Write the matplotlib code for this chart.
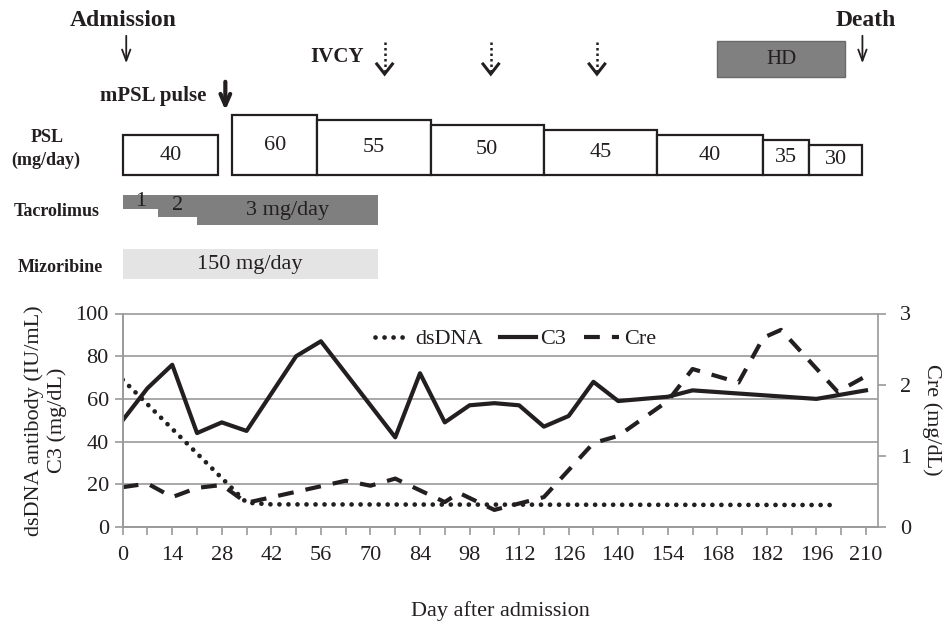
import matplotlib
matplotlib.use('Agg')
import matplotlib.pyplot as plt
from matplotlib.patches import Rectangle

plt.rcParams['font.family'] = ['Liberation Serif', 'DejaVu Serif']

# ---- lab data ----
dsdna_days = [0, 35, 42, 200]
dsdna_vals = [69, 11.4, 10.6, 10.3]

c3_days = [0, 7, 14, 21, 28, 35, 49, 56, 77, 84, 91, 98, 105, 112, 119, 126, 133, 140, 154, 161, 196, 210]
c3_vals = [50, 65, 76, 44, 49, 45, 80, 87, 42, 72, 49, 57, 58, 57, 47, 52, 68, 59, 61, 64, 60, 64]

cre_days = [0, 7, 14, 21, 28, 35, 63, 70, 77, 91, 95, 105, 119, 133, 140, 154, 161, 174, 181, 186, 202, 210]
cre_vals = [0.56, 0.61, 0.42, 0.55, 0.59, 0.34, 0.65, 0.58, 0.68, 0.35, 0.48, 0.24, 0.42, 1.18, 1.28, 1.77, 2.22, 2.03, 2.66, 2.77, 1.9, 2.12]

# ---- treatment data ----
psl_start = [0, 31, 55, 87, 119, 151, 181, 194]
psl_end = [27, 55, 87, 119, 151, 181, 194, 209]
psl_dose = [40, 60, 55, 50, 45, 40, 35, 30]

tac_start = [0, 10, 21]
tac_end = [10, 21, 72]
tac_dose = [1, 2, 3]
tac_labels = ['1', '2', '3 mg/day']

miz_start, miz_end, miz_label = 0, 72, '150 mg/day'
hd_start, hd_end = 168, 204
ivcy_days = [74, 104, 134]
mpsl_day = 29
admission_day = 1
death_day = 209

xticks_major = list(range(0, 211, 14))
xticks_minor = list(range(7, 211, 14))

ink = '#231f20'
grey = '#9a9a9a'

W, H = 944, 625
L, R = 122.7, 878.0
B, T = 527.0, 313.5
xmax = 213.4
ppd = (R - L) / xmax

fig = plt.figure(figsize=(W / 100, H / 100), dpi=100)
ax = fig.add_axes([L / W, 1 - B / H, (R - L) / W, (B - T) / H])
ax2 = ax.twinx()

l1, = ax.plot(dsdna_days, dsdna_vals, color=ink, lw=3.4, linestyle=(0, (0.01, 1.9)),
              dash_capstyle='round', label='dsDNA')
l2, = ax.plot(c3_days, c3_vals, color=ink, lw=3.0, label='C3')
l3, = ax2.plot(cre_days, cre_vals, color=ink, lw=3.0, linestyle=(0, (3.8, 2.9)), label='Cre')

ax.set_xlim(0, xmax)
ax.set_ylim(0, 100)
ax2.set_ylim(0, 3)
ax.set_yticks(range(0, 101, 20))
ax2.set_yticks([0, 1, 2, 3])
ax.set_xticks(xticks_major)
ax.set_xticks(xticks_minor, minor=True)
ax.yaxis.grid(True, color=grey, lw=1.2)
ax.set_axisbelow(True)

for a in (ax, ax2):
    for s in a.spines.values():
        s.set_color(grey)
        s.set_linewidth(1.2)
    a.spines['top'].set_visible(False)
ax.spines['right'].set_visible(False)
ax.tick_params(axis='both', which='both', direction='out', color=grey, width=1.2,
               length=6, labelsize=16, labelcolor=ink, pad=4)
ax.tick_params(axis='x', pad=8)
ax2.tick_params(axis='y', direction='out', color=grey, width=1.2, length=6,
                labelsize=16, labelcolor=ink, pad=10)

ax.set_ylabel('dsDNA antibody (IU/mL)\nC3 (mg/dL)', fontsize=16, color=ink, labelpad=6,
              linespacing=1.2)
ax2.set_ylabel('Cre (mg/dL)', fontsize=16, color=ink, rotation=270, labelpad=22)
ax.set_xlabel('Day after admission', fontsize=16, color=ink, labelpad=26)

ax.legend(handles=[l1, l2, l3], loc='center', bbox_to_anchor=(0.52, 0.88), ncol=3,
          frameon=False, fontsize=16, handlelength=1.6, handletextpad=0.2,
          columnspacing=0.8, labelcolor=ink)

# ---- treatment panel (x in days, y in pixels from top) ----
top = fig.add_axes([0, 1 - 300 / H, 1, 300 / H])
top.set_xlim(-L / ppd, (W - L) / ppd)
top.set_ylim(300, 0)
top.axis('off')


def px(x):
    return (x - L) / ppd


# PSL boxes
base = 175
for s, e, d in zip(psl_start, psl_end, psl_dose):
    top.add_patch(Rectangle((s, base - d), e - s, d, facecolor='white', edgecolor=ink, lw=1.6))
    top.text((s + e) / 2, base - d / 2, str(d), ha='center', va='center', fontsize=16, color=ink)

# tacrolimus steps
for s, e, d, lab in zip(tac_start, tac_end, tac_dose, tac_labels):
    h = 6 + 8 * d
    top.add_patch(Rectangle((s, 195), e - s, h, facecolor='#7f7f7f', edgecolor='none'))
    top.text((s + e) / 2, 195 + h / 2, lab, ha='center', va='center', fontsize=16, color=ink)

# mizoribine
top.add_patch(Rectangle((miz_start, 249), miz_end - miz_start, 30, facecolor='#e4e4e4', edgecolor='none'))
top.text((miz_start + miz_end) / 2, 264, miz_label, ha='center', va='center', fontsize=16, color=ink)

# HD
top.add_patch(Rectangle((hd_start, 41), hd_end - hd_start, 36, facecolor='#808080', edgecolor='#6a6a6a', lw=1))
top.text((hd_start + hd_end) / 2, 60, 'HD', ha='center', va='center', fontsize=15, color=ink)

# row labels
top.text(px(47), 137, 'PSL', ha='center', va='center', fontsize=13, fontweight='bold', color=ink)
top.text(px(46), 160, '(mg/day)', ha='center', va='center', fontsize=13, fontweight='bold', color=ink)
top.text(px(57), 212, 'Tacrolimus', ha='center', va='center', fontsize=13, fontweight='bold', color=ink)
top.text(px(60), 267, 'Mizoribine', ha='center', va='center', fontsize=13, fontweight='bold', color=ink)

# admission / death
top.text(px(123), 20, 'Admission', ha='center', va='center', fontsize=17, fontweight='bold', color=ink)
top.text(px(866), 21, 'Death', ha='center', va='center', fontsize=17, fontweight='bold', color=ink)
for d in (admission_day, death_day):
    top.annotate('', xy=(d, 66), xytext=(d, 33),
                 arrowprops=dict(arrowstyle='->,head_width=0.3,head_length=0.8', lw=1.3, color=ink))

# mPSL pulse
top.text(px(153), 96, 'mPSL pulse', ha='center', va='center', fontsize=15, fontweight='bold', color=ink)
top.annotate('', xy=(mpsl_day, 113), xytext=(mpsl_day, 79),
             arrowprops=dict(arrowstyle='->,head_width=0.35,head_length=0.8', lw=3, color=ink))

# IVCY
top.text(px(337), 57, 'IVCY', ha='center', va='center', fontsize=15, fontweight='bold', color=ink)
for d in ivcy_days:
    top.plot([d, d], [42, 72], color=ink, lw=1.8, linestyle=(0, (1, 1.2)))
    top.plot([d - 2.2, d, d + 2.2], [64, 74, 64], color=ink, lw=2.2, solid_joinstyle='miter')

fig.savefig('out.png', dpi=100)
